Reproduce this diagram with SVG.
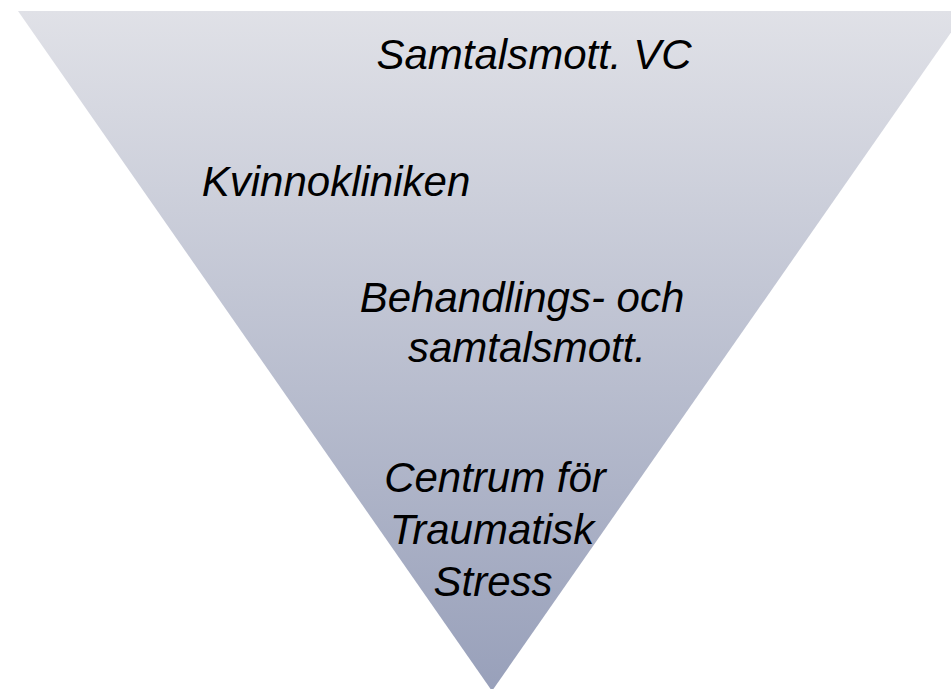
<svg xmlns="http://www.w3.org/2000/svg" width="951" height="689" viewBox="0 0 951 689">
<style>
text{font-family:"Liberation Sans",Arial,sans-serif;font-style:italic;font-size:42px;fill:#000;text-anchor:middle}
</style>
<defs>
<linearGradient id="g" x1="0" y1="0" x2="0" y2="1">
<stop offset="0" stop-color="#e0e1e7"/>
<stop offset="1" stop-color="#98a0ba"/>
</linearGradient>
</defs>
<rect width="951" height="689" fill="#fff"/>
<g id="triangle"><polygon points="18,11 966,11 492,691" fill="url(#g)"/></g>
<g id="level1"><text x="534" y="69">Samtalsmott. VC</text></g>
<g id="level2"><text x="336" y="196">Kvinnokliniken</text></g>
<g id="level3"><text x="522" y="312">Behandlings- och</text><text x="527" y="362">samtalsmott.</text></g>
<g id="level4"><text x="495" y="492">Centrum för</text><text x="492" y="544">Traumatisk</text><text x="493" y="596">Stress</text></g>
</svg>
